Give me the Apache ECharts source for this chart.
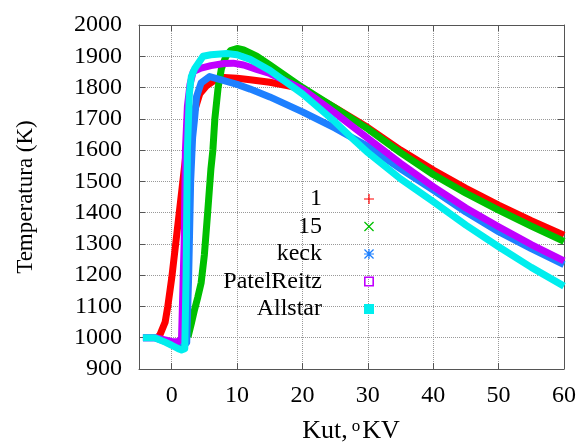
<!DOCTYPE html>
<html>
<head>
<meta charset="utf-8">
<script src="https://cdn.jsdelivr.net/npm/echarts@6/dist/echarts.min.js"></script>
<style>
html,body{margin:0;padding:0;background:#fff}
#wrap{position:relative;width:580px;height:445px}
#bg,#c{position:absolute;left:0;top:0;width:580px;height:445px}
</style>
</head>
<body>
<div id="wrap"><div id="bg"></div><div id="c"></div></div>
<script>
var seriesNames = ['1', '15', 'keck', 'PatelReitz', 'Allstar'];
var xTicks = [0, 10, 20, 30, 40, 50, 60];
var xRange = [-5, 60];
var yRange = [900, 2000];
var yStep = 100;
var xTitle = 'Kut,{s|o}KV';
var yTitle = 'Temperatura (K)';

var x1 = [-2.2, -1.8, -1, -0.6, 0, 0.5, 1.5, 2.25, 3.2, 4.3, 5.3, 6.3, 8, 10, 12, 15, 18, 20, 25, 30, 35, 40, 45, 50, 55, 60];
var y1 = [1000, 1009, 1050, 1100, 1190, 1280, 1462, 1600, 1706, 1780, 1805, 1820, 1832, 1830, 1825, 1817, 1805, 1795, 1735, 1672, 1600, 1536, 1478, 1424, 1374, 1328];

var x15 = [2.5, 3, 3.5, 4, 4.5, 5, 5.5, 6, 6.3, 6.6, 7.1, 7.6, 8.3, 9, 10, 11, 13, 15, 20, 25, 30, 35, 40, 45, 50, 55, 60];
var y15 = [1003, 1045, 1090, 1130, 1175, 1265, 1400, 1540, 1600, 1700, 1800, 1860, 1900, 1918, 1925, 1920, 1900, 1872, 1800, 1735, 1668, 1592, 1522, 1462, 1408, 1357, 1308];

var xKeck = [-4.4, -2.6, -1, 0, 1, 1.7, 2.3, 2.6, 2.9, 3.2, 3.5, 3.8, 4.5, 5.8, 8, 10, 12, 15, 20, 25, 30, 35, 40, 45, 50, 55, 60];
var yKeck = [1000, 1000, 988, 980, 972, 970, 985, 1200, 1500, 1640, 1700, 1771, 1815, 1835, 1822, 1810, 1795, 1770, 1722, 1670, 1612, 1540, 1472, 1402, 1339, 1285, 1234];

var xPatel = [-4.4, -2.5, -1, 0, 0.9, 1.5, 1.6, 1.9, 2.1, 2.4, 2.8, 3.3, 4.5, 6, 8, 9.4, 11, 13, 15, 20, 25, 30, 35, 40, 45, 50, 55, 60];
var yPatel = [1000, 1000, 993, 988, 987, 995, 1000, 1300, 1600, 1740, 1810, 1851, 1862, 1870, 1877, 1878, 1872, 1858, 1845, 1795, 1718, 1638, 1558, 1483, 1415, 1355, 1298, 1246];

var xAll = [-4.4, -2.6, -1, 0, 1, 1.5, 2.0, 2.2, 2.4, 2.7, 3, 3.5, 4.8, 6, 8.4, 10, 12, 15, 20, 25, 28, 30, 35, 40, 45, 50, 55, 60];
var yAll = [1000, 1000, 986, 976, 965, 961, 965, 1200, 1600, 1780, 1835, 1860, 1900, 1905, 1909, 1905, 1890, 1855, 1780, 1690, 1630, 1592, 1508, 1435, 1360, 1291, 1225, 1165];

function pairs(xs, ys) { return xs.map(function (x, i) { return [x, ys[i]]; }); }

var dataSets = [pairs(x1, y1), pairs(x15, y15), pairs(xKeck, yKeck), pairs(xPatel, yPatel), pairs(xAll, yAll)];
var colors = ['#ff0000', '#00c000', '#1e80ff', '#c000ff', '#00eeee'];
var icons = [
  'path://M44,0h12v44h44v12h-44v44h-12v-44h-44v-12h44z',
  'path://M0,9L9,0L50,41L91,0L100,9L59,50L100,91L91,100L50,59L9,100L0,91L41,50z',
  'path://M44,0h12v44h44v12h-44v44h-12v-44h-44v-12h44zM0,9L9,0L50,41L91,0L100,9L59,50L100,91L91,100L50,59L9,100L0,91L41,50z',
  'path://M0,0H100V100H0ZM16,16V84H84V16Z',
  'rect'
];

var font = 'Liberation Serif';
var gridBox = {left: 139, right: 16, top: 25, bottom: 76, outerBoundsMode: 'none'};

/* ---------- background chart: dotted grid lines and inward ticks ---------- */
var bg = echarts.init(document.getElementById('bg'));
var gridLine = {show: true, lineStyle: {type: 'dotted', color: '#999'}};
bg.setOption({
  animation: false,
  grid: gridBox,
  xAxis: [{
    type: 'value', min: xRange[0], max: xRange[1], position: 'bottom',
    axisLine: {show: false, onZero: false},
    axisTick: {show: true, inside: true, length: 6, customValues: xTicks, lineStyle: {color: '#555'}},
    axisLabel: {show: false, customValues: xTicks},
    splitLine: gridLine
  }, {
    type: 'value', min: xRange[0], max: xRange[1], position: 'top',
    axisLine: {show: false, onZero: false},
    axisTick: {show: true, inside: true, length: 6, customValues: xTicks, lineStyle: {color: '#555'}},
    axisLabel: {show: false, customValues: xTicks},
    splitLine: {show: false}
  }],
  yAxis: [{
    type: 'value', min: yRange[0], max: yRange[1], interval: yStep, position: 'left',
    axisLine: {show: false, onZero: false},
    axisTick: {show: true, inside: true, length: 6, lineStyle: {color: '#555'}},
    axisLabel: {show: false},
    splitLine: gridLine
  }, {
    type: 'value', min: yRange[0], max: yRange[1], interval: yStep, position: 'right',
    axisLine: {show: false, onZero: false},
    axisTick: {show: true, inside: true, length: 6, lineStyle: {color: '#555'}},
    axisLabel: {show: false},
    splitLine: {show: false}
  }],
  series: []
});
bg.getZr().storage.getDisplayList(true);

/* ---------- main chart: curves, axes box, labels, legend, titles ---------- */
var chart = echarts.init(document.getElementById('c'));
function axisLine() { return {show: true, onZero: false, lineStyle: {color: '#555', width: 1}}; }
chart.setOption({
  animation: false,
  backgroundColor: 'transparent',
  grid: gridBox,
  graphic: [{
    type: 'text', x: 351, y: 431,
    style: {text: xTitle, fontFamily: font, fontSize: 26, fill: '#000', align: 'center', verticalAlign: 'middle',
      rich: {s: {fontFamily: font, fontSize: 17, fill: '#000', verticalAlign: 'top', padding: [0, 2, 9, 4]}}}
  }, {
    type: 'text', x: 26, y: 197, rotation: Math.PI / 2,
    style: {text: yTitle, fontFamily: font, fontSize: 23, fill: '#000', align: 'center', verticalAlign: 'middle'}
  }],
  legend: {
    orient: 'vertical',
    left: 177,
    top: 182,
    align: 'right',
    itemWidth: 10,
    itemHeight: 10,
    itemGap: 3.5,
    itemStyle: {borderWidth: 0},
    textStyle: {fontFamily: font, fontSize: 24, color: '#000', width: 140, align: 'right', lineHeight: 24, padding: [0, 37, 0, 0]},
    data: seriesNames.map(function (n, i) { return {name: n, icon: icons[i], itemStyle: {color: colors[i]}}; })
  },
  xAxis: [{
    type: 'value', min: xRange[0], max: xRange[1], position: 'bottom',
    axisLine: axisLine(),
    axisTick: {show: false, customValues: xTicks},
    axisLabel: {customValues: xTicks, fontFamily: font, fontSize: 24, color: '#000', margin: 15},
    splitLine: {show: false}
  }, {
    type: 'value', min: xRange[0], max: xRange[1], position: 'top',
    axisLine: axisLine(),
    axisTick: {show: false},
    axisLabel: {show: false},
    splitLine: {show: false}
  }],
  yAxis: [{
    type: 'value', min: yRange[0], max: yRange[1], interval: yStep, position: 'left',
    axisLine: axisLine(),
    axisTick: {show: false},
    axisLabel: {fontFamily: font, fontSize: 24, color: '#000', margin: 17, formatter: function (v) { return String(v); }},
    splitLine: {show: false}
  }, {
    type: 'value', min: yRange[0], max: yRange[1], interval: yStep, position: 'right',
    axisLine: axisLine(),
    axisTick: {show: false},
    axisLabel: {show: false},
    splitLine: {show: false}
  }],
  series: seriesNames.map(function (n, i) {
    return {
      name: n, type: 'line', xAxisIndex: 0, yAxisIndex: 0,
      data: dataSets[i], showSymbol: false, symbol: 'none',
      lineStyle: {color: colors[i], width: 7, join: 'round'},
      itemStyle: {color: colors[i]},
      z: 3 + i
    };
  })
});
</script>
</body>
</html>
